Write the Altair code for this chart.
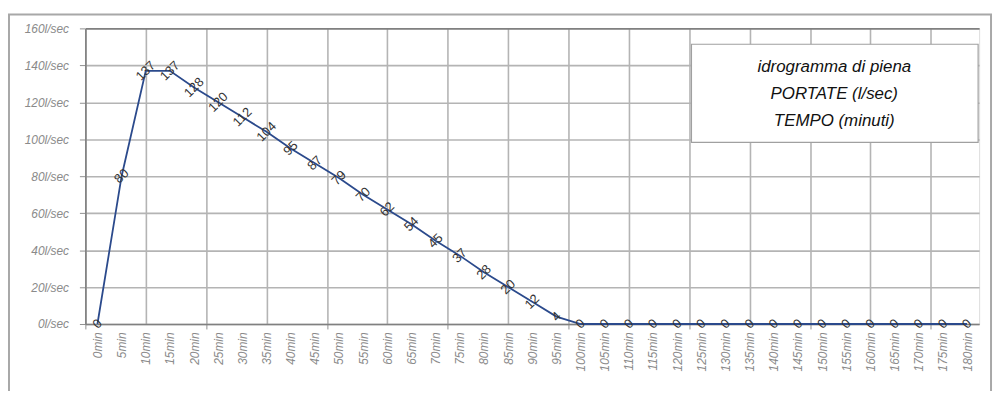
import altair as alt
import pandas as pd

# Data
minutes = [0, 5, 10, 15, 20, 25, 30, 35, 40, 45, 50, 55, 60, 65, 70, 75, 80, 85,
           90, 95, 100, 105, 110, 115, 120, 125, 130, 135, 140, 145, 150, 155,
           160, 165, 170, 175, 180]
portate = [0, 80, 137, 137, 128, 120, 112, 104, 95, 87, 79, 70, 62, 54, 45, 37,
           28, 20, 12, 4, 0, 0, 0, 0, 0, 0, 0, 0, 0, 0, 0, 0, 0, 0, 0, 0, 0]
y_ticks = [0, 20, 40, 60, 80, 100, 120, 140, 160]
box_lines = ["idrogramma di piena", "PORTATE (l/sec)", "TEMPO (minuti)"]

# x axis: labels every 5 min, gridlines every 12.5 min, ticks every 25 min
label_vals = [float(m) for m in minutes]
grid_vals = [-2.5 + 12.5 * k for k in range(15)]
x_axis_vals = sorted(set(label_vals + grid_vals))

df = pd.DataFrame({"minuti": minutes, "portata": portate})
one = pd.DataFrame({"a": [0]})

FONT = "Liberation Sans"
W, H = 901, 298

x_enc = alt.X(
    "minuti:Q",
    scale=alt.Scale(domain=[-2.5, 182.5], nice=False, zero=False),
    axis=alt.Axis(
        values=x_axis_vals,
        title=None,
        labelExpr="datum.value % 5 == 0 ? datum.value + 'min' : ''",
        labelAngle=270,
        labelFont=FONT,
        labelFontStyle="italic",
        labelFontSize=12,
        labelColor="#8a8a8a",
        labelOverlap=False,
        labelFlush=False,
        labelPadding=3,
        grid=True,
        gridColor="#b4b4b4",
        gridWidth=1.6,
        gridOpacity={"condition": {"test": "(datum.value + 2.5) % 12.5 == 0", "value": 1}, "value": 0},
        ticks=True,
        tickColor="#909090",
        tickSize=5,
        tickOpacity={"condition": {"test": "(datum.value + 2.5) % 25 == 0", "value": 1}, "value": 0},
        domainColor="#808080",
        domainWidth=1.6,
    ),
)

y_enc = alt.Y(
    "portata:Q",
    scale=alt.Scale(domain=[0, 160], nice=False),
    axis=alt.Axis(
        values=y_ticks,
        title=None,
        labelExpr="datum.value + 'l/sec'",
        labelFont=FONT,
        labelFontStyle="italic",
        labelFontSize=12,
        labelColor="#8a8a8a",
        labelOverlap=False,
        labelPadding=11,
        grid=True,
        gridColor={"condition": {"test": "datum.value == 160", "value": "#808080"}, "value": "#b4b4b4"},
        gridWidth=1.6,
        tickColor="#909090",
        tickSize=6,
        domainColor="#808080",
        domainWidth=1.6,
    ),
)

frame = alt.Chart(one).mark_rect(fill="transparent", stroke="#a8a8a8", strokeWidth=2).encode(
    x=alt.value(-77), x2=alt.value(913), y=alt.value(-14), y2=alt.value(420)
)

line = alt.Chart(df).mark_line(color="#2b4a8c", strokeWidth=1.8).encode(x=x_enc, y=y_enc)

labels = alt.Chart(df).mark_text(
    angle=315, font=FONT, fontSize=13, color="#333333", align="center", baseline="middle"
).encode(
    x=x_enc, y=y_enc, text=alt.Text("portata:Q", format="d")
)

box = alt.Chart(one).mark_rect(fill="white", stroke="#a0a0a0", strokeWidth=1.2).encode(
    x=alt.value(611), x2=alt.value(900), y=alt.value(16), y2=alt.value(115)
)

box_text = alt.Chart(one).mark_text(
    font=FONT, fontSize=17, fontStyle="italic", color="#111111",
    align="center", baseline="middle", lineBreak="\n", lineHeight=27
).encode(
    x=alt.value(755), y=alt.value(39), text=alt.value("\n".join(box_lines))
)

chart = alt.layer(frame, line, labels, box, box_text).properties(
    width=W, height=H,
    autosize=alt.AutoSizeParams(type="none"),
    padding={"left": 78, "top": 19, "right": 15, "bottom": 66},
).configure_view(stroke=None).configure(background="white")

chart.save("out.html", embed_options={"renderer": "svg", "actions": False})
